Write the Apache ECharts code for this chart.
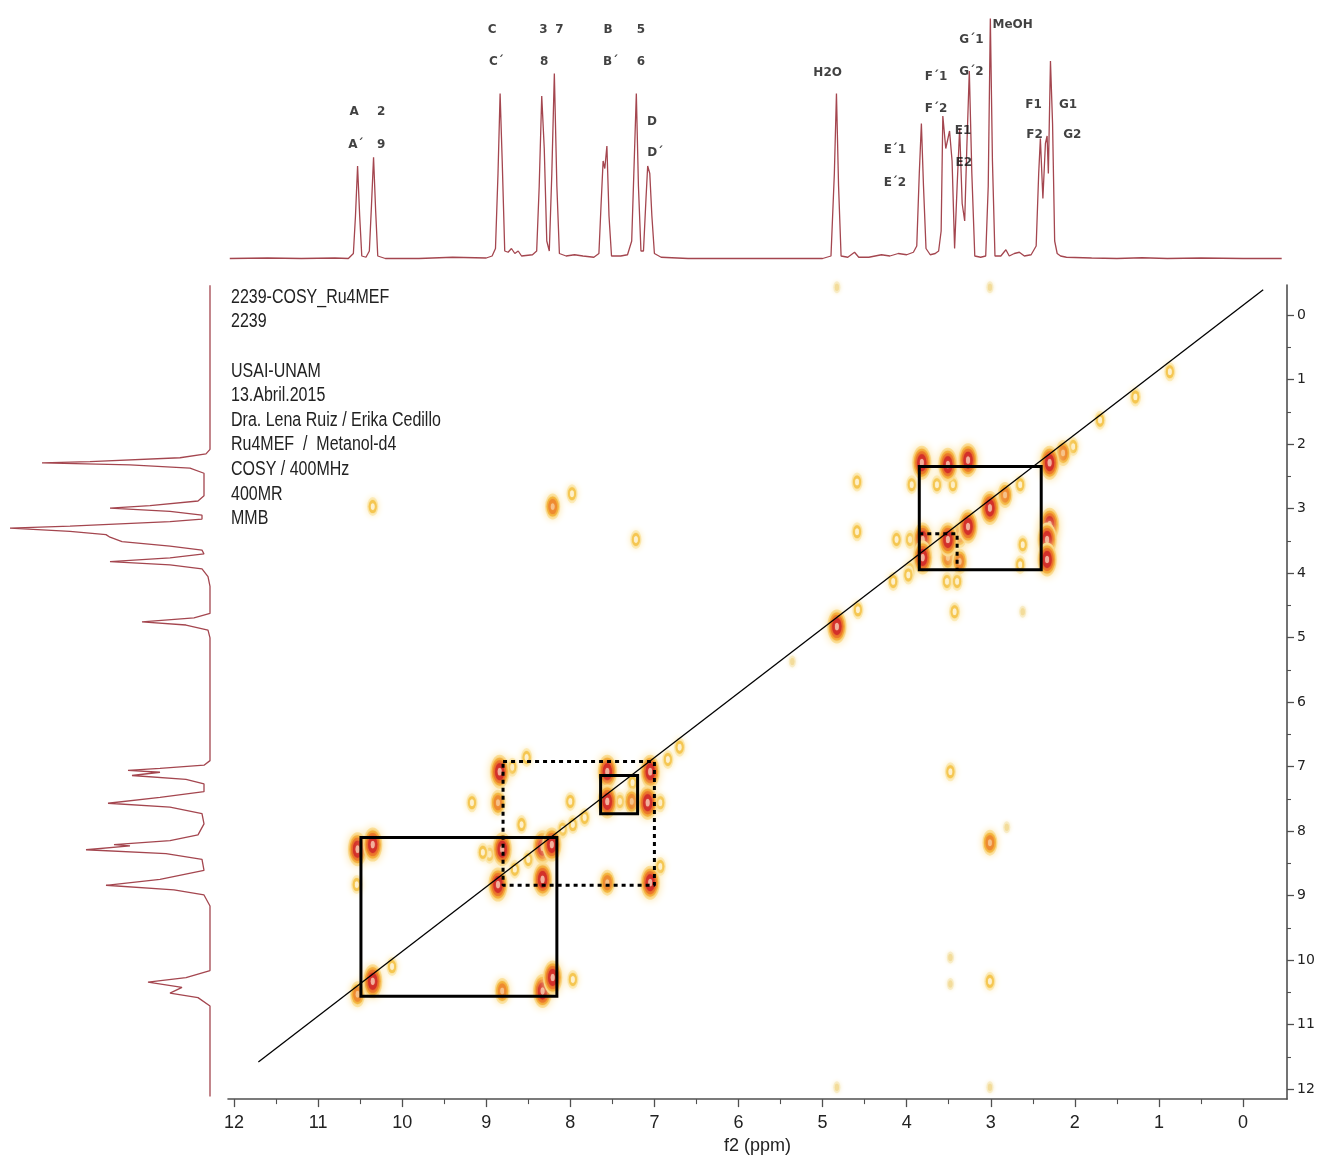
<!DOCTYPE html>
<html>
<head>
<meta charset="utf-8">
<title>2239-COSY_Ru4MEF</title>
<script src="https://cdn.jsdelivr.net/npm/echarts@6.0.0/dist/echarts.min.js"></script>
<style>
  html, body { margin: 0; padding: 0; background: #ffffff; }
  #chart { width: 1320px; height: 1160px; }
</style>
</head>
<body>
<div id="chart"></div>
<script>
// Chemical-shift windows of the 2D map (ppm)
const F2_RANGE = [-0.523, 12.071];
const F1_RANGE = [-0.465, 12.155];

// Axis ticks (ppm)
const MAJOR_TICKS = [0, 1, 2, 3, 4, 5, 6, 7, 8, 9, 10, 11, 12];
const MINOR_TICKS = [0.5, 1.5, 2.5, 3.5, 4.5, 5.5, 6.5, 7.5, 8.5, 9.5, 10.5, 11.5];

// f2 projection (top): [ppm, intensity %]
const F2_TRACE = [
  [12.05, 1], [11.6, 1.2], [11.2, 1], [10.8, 1.2], [10.64, 1], [10.58, 3], [10.555, 18], [10.53, 38], [10.505, 18],
  [10.48, 2], [10.43, 1.5], [10.39, 4], [10.365, 22], [10.34, 41.5], [10.315, 20], [10.29, 2], [10.2, 1], [9.8, 1],
  [9.4, 1.5], [9.0, 1.2], [8.93, 2], [8.89, 5], [8.86, 35], [8.835, 67], [8.81, 40], [8.78, 4], [8.74, 3.5], [8.70, 5],
  [8.66, 3], [8.62, 4], [8.58, 2], [8.45, 2.5], [8.40, 4], [8.37, 30], [8.34, 66], [8.31, 45], [8.28, 8], [8.25, 4],
  [8.22, 35], [8.19, 75], [8.16, 30], [8.13, 3], [8.05, 2], [7.95, 2.5], [7.85, 2], [7.72, 1.5], [7.66, 3], [7.635, 22],
  [7.61, 40], [7.59, 37], [7.565, 46], [7.54, 18], [7.51, 2], [7.40, 2], [7.32, 2.5], [7.27, 8], [7.24, 40],
  [7.215, 67], [7.19, 30], [7.16, 4], [7.13, 4], [7.10, 25], [7.08, 38], [7.055, 35], [7.03, 18], [7.0, 3], [6.92, 1.5],
  [6.6, 1], [6.0, 1], [5.5, 1], [5.0, 1], [4.9, 2], [4.86, 35], [4.835, 67], [4.81, 30], [4.78, 2], [4.7, 1.5],
  [4.62, 3.5], [4.57, 1.5], [4.45, 1.5], [4.3, 2.5], [4.2, 2], [4.1, 3], [4.0, 2.5], [3.92, 3.5], [3.88, 6], [3.85, 35],
  [3.825, 55], [3.80, 30], [3.77, 5], [3.72, 2.5], [3.66, 3], [3.62, 4], [3.59, 12], [3.57, 58], [3.535, 45], [3.49, 52],
  [3.46, 40], [3.43, 5], [3.40, 30], [3.37, 53], [3.34, 23], [3.31, 16], [3.285, 45], [3.255, 76], [3.225, 35],
  [3.19, 2], [3.12, 1.5], [3.06, 2], [3.03, 30], [3.005, 97], [2.98, 40], [2.95, 2], [2.88, 2], [2.82, 4.5], [2.78, 2],
  [2.72, 3], [2.66, 3.5], [2.60, 2], [2.52, 2.5], [2.46, 6], [2.43, 35], [2.41, 49], [2.38, 25], [2.35, 47], [2.33, 50],
  [2.315, 35], [2.29, 80], [2.265, 55], [2.24, 8], [2.21, 3], [2.17, 2], [2.1, 1.5], [1.8, 1.2], [1.5, 1], [1.2, 1.3],
  [0.9, 1], [0.5, 1.2], [0.0, 1], [-0.46, 1]
];

// f1 projection (left): [ppm, intensity %]
const F1_TRACE = [
  [-0.46, 0], [1.0, 0], [2.08, 0], [2.15, 2], [2.21, 15], [2.27, 60], [2.29, 84], [2.32, 40], [2.37, 10], [2.45, 3],
  [2.6, 3], [2.8, 3], [2.88, 6], [2.95, 30], [2.99, 50], [3.04, 20], [3.10, 4], [3.16, 4], [3.20, 20], [3.27, 70],
  [3.30, 100], [3.35, 70], [3.40, 52], [3.44, 50], [3.51, 44], [3.58, 20], [3.64, 4], [3.70, 3], [3.76, 20],
  [3.82, 50], [3.87, 20], [3.93, 4], [4.05, 1], [4.2, 0], [4.62, 0], [4.69, 8], [4.75, 34], [4.80, 12], [4.88, 1],
  [5.0, 0], [6.9, 0], [6.97, 3], [7.02, 25], [7.05, 41], [7.08, 25], [7.13, 39], [7.19, 12], [7.26, 3], [7.38, 3],
  [7.47, 25], [7.56, 51], [7.62, 20], [7.72, 4], [7.88, 3], [8.05, 6], [8.14, 20], [8.20, 48], [8.22, 40],
  [8.28, 62], [8.34, 22], [8.43, 4], [8.60, 3], [8.74, 25], [8.83, 52], [8.90, 18], [8.98, 3], [9.15, 0], [10.15, 0],
  [10.26, 12], [10.33, 31], [10.41, 14], [10.50, 20], [10.57, 6], [10.7, 0], [12.1, 0]
];

// COSY contour peaks: [f2 ppm, f1 ppm, contour level 0..3]
const CROSS_PEAKS = [
  [10.53, 8.28, 3], [10.35, 8.21, 3], [10.54, 8.83, 1], [10.35, 10.33, 3], [10.53, 10.53, 2], [10.12, 10.10, 1],
  [8.84, 7.08, 3], [8.69, 7.01, 1], [8.52, 6.86, 1], [8.86, 7.56, 2], [8.81, 8.28, 3], [8.96, 8.36, 1],
  [8.86, 8.83, 3], [8.33, 8.25, 3], [8.22, 8.21, 3], [8.33, 8.75, 3], [7.56, 7.08, 3], [7.56, 7.54, 3],
  [7.26, 7.25, 1], [7.27, 7.54, 2], [7.41, 7.54, 1], [7.05, 7.08, 3], [7.08, 7.56, 3], [6.93, 7.56, 1],
  [7.05, 8.80, 3], [6.93, 8.55, 1], [7.56, 8.80, 2], [8.33, 10.48, 3], [8.21, 10.27, 3], [8.81, 10.48, 2],
  [7.97, 10.30, 1], [8.00, 7.54, 1], [9.17, 7.56, 1], [9.04, 8.33, 1], [8.09, 7.97, 1], [7.97, 7.90, 1],
  [8.58, 7.90, 1], [8.66, 8.59, 1], [8.50, 8.44, 1], [7.83, 7.79, 1], [6.84, 6.89, 1], [6.70, 6.70, 1],
  [8.21, 2.97, 2], [7.98, 2.77, 1], [10.35, 2.97, 1], [7.22, 3.48, 1],
  [4.83, -0.43, 0], [3.01, -0.43, 0], [4.83, 11.97, 0], [3.01, 11.97, 0],
  [3.48, 7.08, 1], [3.01, 8.18, 2], [2.81, 7.94, 0], [3.48, 9.96, 0], [3.48, 10.37, 0], [3.01, 10.33, 1],
  [4.59, 2.59, 1], [4.59, 3.36, 1], [3.82, 2.29, 3], [3.51, 2.32, 3], [3.27, 2.25, 3],
  [3.64, 2.63, 1], [3.45, 2.63, 1], [3.94, 2.63, 1], [3.01, 2.99, 3], [2.83, 2.79, 2], [2.65, 2.63, 1],
  [2.30, 2.29, 3], [2.14, 2.14, 2], [2.02, 2.04, 1], [3.27, 3.28, 3], [3.51, 3.48, 3], [3.37, 3.41, 2],
  [3.81, 3.48, 3], [3.81, 3.76, 3], [3.51, 3.76, 2], [3.37, 3.82, 2], [3.96, 3.48, 1], [4.12, 3.48, 1],
  [2.30, 3.25, 3], [2.33, 3.48, 3], [2.33, 3.79, 3], [2.62, 3.56, 1], [2.65, 3.87, 1],
  [3.96, 3.95, 1], [4.16, 4.13, 1], [3.52, 4.13, 1], [3.40, 4.13, 1], [3.98, 4.03, 1],
  [3.43, 4.60, 1], [2.62, 4.60, 0], [4.58, 4.57, 1], [4.83, 4.83, 3],
  [1.70, 1.63, 1], [1.28, 1.27, 1], [0.87, 0.88, 1], [5.36, 5.37, 0]
];

// Coupling boxes: [f2 start, f1 start, f2 end, f1 end]
const SOLID_BOXES = [
  [10.49, 8.10, 8.16, 10.56],
  [7.64, 7.14, 7.20, 7.73],
  [3.85, 2.35, 2.40, 3.95]
];
const DOTTED_BOXES = [
  [8.80, 6.92, 7.00, 8.84]
];
// Open dotted corner inside the aliphatic box: [f2, f1] vertices
const DOTTED_CORNER = [[3.85, 3.39], [3.40, 3.39], [3.40, 3.95]];
// Diagonal guide: [f2, f1] end points
const DIAGONAL = [[11.71, 11.58], [-0.24, -0.39]];

// Peak assignments on the f2 projection: [text, ppm, height %]
const PEAK_LABELS = [
  ['A', 10.57, 59.6], ['2', 10.25, 59.6], ['A´', 10.55, 46.4], ['9', 10.25, 46.4],
  ['C', 8.93, 92.4], ['C´', 8.88, 79.6], ['3', 8.32, 92.4], ['7', 8.13, 92.4], ['8', 8.31, 79.6],
  ['B', 7.55, 92.4], ['B´', 7.52, 79.6], ['5', 7.16, 92.4], ['6', 7.16, 79.6],
  ['D', 7.03, 55.6], ['D´', 6.99, 43.2], ['H2O', 4.94, 75.2],
  ['E´1', 4.14, 44.4], ['E´2', 4.14, 31.2], ['F´1', 3.65, 73.6], ['F´2', 3.65, 60.8],
  ['G´1', 3.23, 88.4], ['G´2', 3.23, 75.6], ['E1', 3.33, 52], ['E2', 3.32, 39.2],
  ['MeOH', 2.74, 94.4], ['F1', 2.49, 62.4], ['F2', 2.48, 50.4], ['G1', 2.08, 62.4], ['G2', 2.03, 50.4]
];

// Acquisition notes
const INFO_LINES = [
  '2239-COSY_Ru4MEF', '2239', '', 'USAI-UNAM', '13.Abril.2015', 'Dra. Lena Ruiz / Erika Cedillo',
  'Ru4MEF  /  Metanol-d4', 'COSY / 400MHz', '400MR', 'MMB'
];

// ---------------------------------------------------------------------------
const TRACE_COLOR = '#a4464f';
const AXIS_COLOR = '#505050';
const NARROW_FONT = '"Liberation Sans Narrow", "Liberation Sans", Arial, sans-serif';

// Contour rings per level: [half-width px, half-height px, colour, blur], outermost first
const SPOT_RINGS = {
  0: [[3.5, 6, '#f8ecc6', 4], [2, 3.5, '#f3dc9a', 1]],
  1: [[5.5, 9.5, '#fcebb8', 6], [4, 6.5, '#f5c650', 2], [1.8, 3.2, '#fdf0cc', 1]],
  2: [[7.5, 13, '#fbe2a0', 7], [6, 10, '#f4b841', 2], [4.3, 7.5, '#ee8a30', 2], [1.8, 3.2, '#f6c088', 1]],
  3: [[9.5, 17, '#fbe09a', 8], [8, 14, '#f4b13e', 3], [6.5, 11.5, '#ec7a2c', 2], [4.6, 8.5, '#d3302a', 2], [1.9, 3.6, '#f2b09c', 1]]
};

function renderSpot(params, api) {
  const p = api.coord([api.value(0), api.value(1)]);
  const rings = SPOT_RINGS[api.value(2)];
  return {
    type: 'group',
    children: rings.map(function (r) {
      return {
        type: 'circle',
        x: p[0], y: p[1],
        scaleY: r[1] / r[0],
        shape: { cx: 0, cy: 0, r: r[0] },
        style: { fill: r[2], shadowBlur: r[3], shadowColor: r[2] }
      };
    })
  };
}

function boxPath(b) {
  return [[b[0], b[1]], [b[2], b[1]], [b[2], b[3]], [b[0], b[3]], [b[0], b[1]], [b[2], b[1]]];
}

const spotsSorted = CROSS_PEAKS.slice().sort(function (a, b) { return a[2] - b[2]; });

const hiddenValueAxis = function (extra) {
  return Object.assign({
    type: 'value', show: false, splitLine: { show: false },
    axisLine: { show: false, onZero: false }
  }, extra);
};

const boxSeries = [];
SOLID_BOXES.forEach(function (b) {
  boxSeries.push({
    type: 'line', xAxisIndex: 0, yAxisIndex: 0, data: boxPath(b), symbol: 'none', silent: true,
    clip: false, z: 5,
    lineStyle: { color: '#000', width: 3, join: 'miter' }
  });
});
DOTTED_BOXES.forEach(function (b) {
  boxSeries.push({
    type: 'line', xAxisIndex: 0, yAxisIndex: 0, data: boxPath(b).slice(0, 5), symbol: 'none', silent: true,
    clip: false, z: 5,
    lineStyle: { color: '#000', width: 3, type: [4, 4], cap: 'butt' }
  });
});
boxSeries.push({
  type: 'line', xAxisIndex: 0, yAxisIndex: 0, data: DOTTED_CORNER, symbol: 'none', silent: true,
  clip: false, z: 5,
  lineStyle: { color: '#000', width: 3, type: [4, 4] }
});

const option = {
  animation: false,
  backgroundColor: '#ffffff',
  grid: [
    { left: 228, right: 33, top: 285, bottom: 60 },   // 2D map
    { left: 228, right: 33, top: 11, height: 250 },   // f2 projection
    { left: 10, width: 200, top: 285, bottom: 60 }    // f1 projection
  ],
  xAxis: [
    {
      gridIndex: 0, type: 'value', min: F2_RANGE[0], max: F2_RANGE[1], inverse: true, position: 'bottom',
      axisLine: { show: true, onZero: false, lineStyle: { color: AXIS_COLOR, width: 1.6 } },
      axisTick: { show: true, customValues: MAJOR_TICKS, length: 8, lineStyle: { color: AXIS_COLOR, width: 1.3 } },
      axisLabel: {
        show: true, customValues: MAJOR_TICKS, margin: 15,
        fontFamily: NARROW_FONT, fontSize: 18, color: '#222'
      },
      splitLine: { show: false },
      name: 'f2 (ppm)', nameLocation: 'middle', nameGap: 36,
      nameTextStyle: { fontFamily: NARROW_FONT, fontSize: 18, color: '#222' }
    },
    {
      gridIndex: 0, type: 'value', min: F2_RANGE[0], max: F2_RANGE[1], inverse: true, position: 'bottom',
      axisLine: { show: false, onZero: false },
      axisTick: { show: true, customValues: MINOR_TICKS, length: 5, lineStyle: { color: AXIS_COLOR, width: 1.1 } },
      axisLabel: { show: false },
      splitLine: { show: false }
    },
    hiddenValueAxis({ gridIndex: 1, min: F2_RANGE[0], max: F2_RANGE[1], inverse: true }),
    hiddenValueAxis({ gridIndex: 2, min: 0, max: 100, inverse: true })
  ],
  yAxis: [
    {
      gridIndex: 0, type: 'value', min: F1_RANGE[0], max: F1_RANGE[1], inverse: true, position: 'right',
      axisLine: { show: true, onZero: false, lineStyle: { color: AXIS_COLOR, width: 1.6 } },
      axisTick: { show: true, customValues: MAJOR_TICKS, length: 7, lineStyle: { color: AXIS_COLOR, width: 1.3 } },
      axisLabel: {
        show: true, customValues: MAJOR_TICKS, margin: 10,
        fontFamily: '"DejaVu Sans", Verdana, sans-serif', fontSize: 14, color: '#222'
      },
      splitLine: { show: false }
    },
    {
      gridIndex: 0, type: 'value', min: F1_RANGE[0], max: F1_RANGE[1], inverse: true, position: 'right',
      axisLine: { show: false, onZero: false },
      axisTick: { show: true, customValues: MINOR_TICKS, length: 4, lineStyle: { color: AXIS_COLOR, width: 1.1 } },
      axisLabel: { show: false },
      splitLine: { show: false }
    },
    hiddenValueAxis({ gridIndex: 1, min: 0, max: 100 }),
    hiddenValueAxis({ gridIndex: 2, min: F1_RANGE[0], max: F1_RANGE[1], inverse: true })
  ],
  graphic: [
    {
      type: 'text', left: 231, top: 285, silent: true, scaleX: 0.8,
      style: {
        text: INFO_LINES.join('\n'),
        font: '20px ' + NARROW_FONT,
        lineHeight: 24.6,
        fill: '#222'
      }
    }
  ],
  series: [
    {
      name: 'contours', type: 'custom', xAxisIndex: 0, yAxisIndex: 0,
      renderItem: renderSpot, data: spotsSorted, encode: { x: 0, y: 1 }, silent: true, z: 2
    },
    {
      name: 'diagonal', type: 'line', xAxisIndex: 0, yAxisIndex: 0, data: DIAGONAL, symbol: 'none',
      silent: true, clip: false, z: 6, lineStyle: { color: '#000', width: 1.3 }
    }
  ].concat(boxSeries).concat([
    {
      name: 'f2 projection', type: 'line', xAxisIndex: 2, yAxisIndex: 2, data: F2_TRACE, symbol: 'none',
      silent: true, clip: false, lineStyle: { color: TRACE_COLOR, width: 1.3 }
    },
    {
      name: 'f1 projection', type: 'line', xAxisIndex: 3, yAxisIndex: 3,
      data: F1_TRACE.map(function (d) { return [d[1], d[0]]; }), symbol: 'none',
      silent: true, clip: false, lineStyle: { color: TRACE_COLOR, width: 1.3 }
    },
    {
      name: 'assignments', type: 'scatter', xAxisIndex: 2, yAxisIndex: 2, silent: true, z: 8,
      symbolSize: 1, itemStyle: { color: 'rgba(0,0,0,0)' },
      data: PEAK_LABELS.map(function (l) { return { name: l[0], value: [l[1], l[2]] }; }),
      label: {
        show: true, position: 'inside', formatter: '{b}',
        fontFamily: '"DejaVu Sans", Verdana, sans-serif', fontWeight: 'bold', fontSize: 12, color: '#111'
      }
    }
  ])
};

const chart = echarts.init(document.getElementById('chart'), null, { renderer: 'canvas' });
chart.setOption(option);
</script>
</body>
</html>
